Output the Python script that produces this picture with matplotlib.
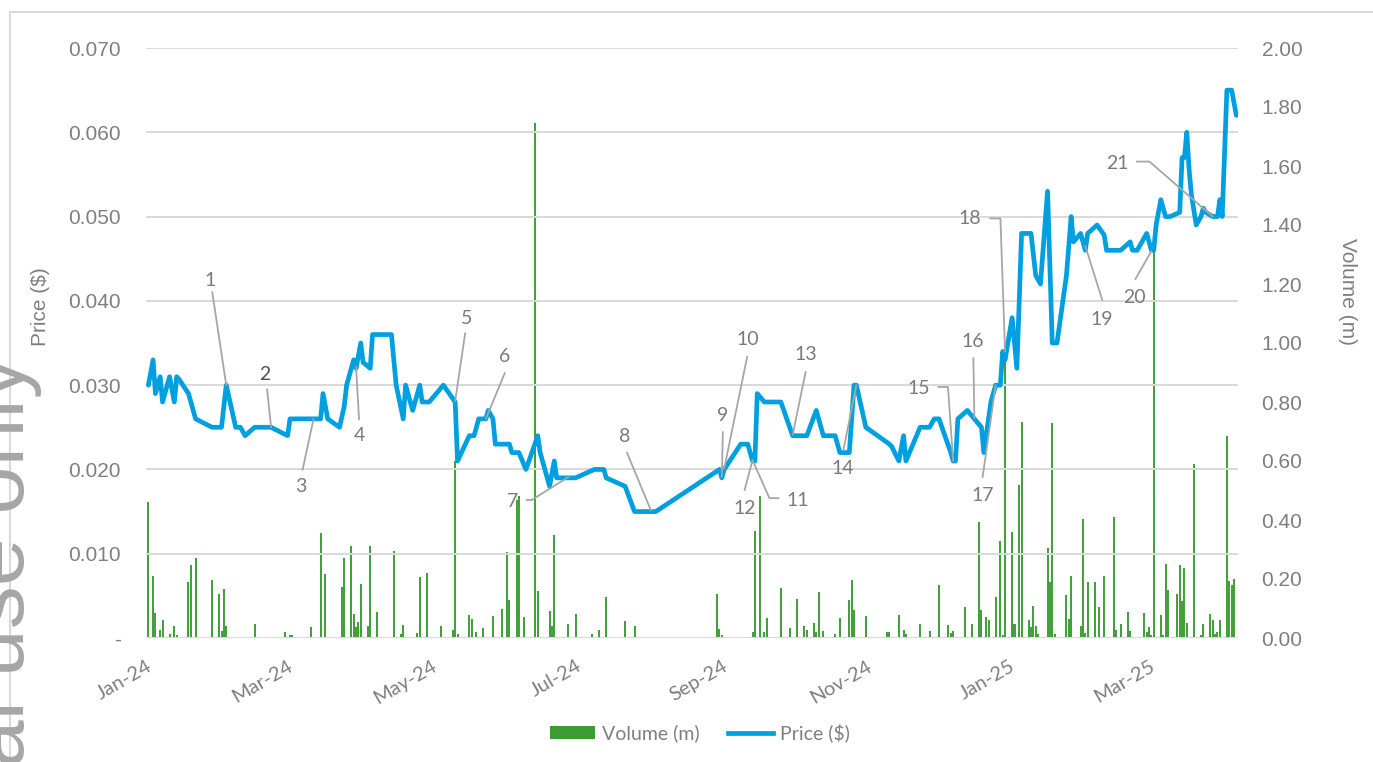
import numpy as np
import pandas as pd
import matplotlib
matplotlib.use("Agg")
import matplotlib.pyplot as plt
import matplotlib.dates as mdates
from matplotlib.ticker import FixedLocator, FuncFormatter
from matplotlib.lines import Line2D
from matplotlib.patches import Patch

# days counted from 1 Jan 2024
start = pd.Timestamp("2024-01-01")

price_day = [1, 3, 4, 6, 7, 10, 12, 13, 14, 18, 21, 28, 32, 34, 38, 40, 42, 46, 53, 60,
             61, 74, 75, 77, 82, 84, 85, 88, 89, 91, 92, 95, 96, 104, 106, 109, 110, 113, 116, 117, 120,
             126, 131, 132, 137, 139, 141, 144, 145, 147, 148, 154, 155, 158, 161, 166, 167, 171, 173, 174,
             182, 190, 194, 195, 203, 207, 216,
             243, 244, 245, 252, 255, 257, 258, 259, 262, 269, 274, 280, 284, 287, 292, 294, 298, 300, 301,
             305, 315, 316, 319, 321, 322, 328, 332, 334, 336, 341, 342, 343, 344, 348, 351, 354, 355, 358,
             360, 362, 363, 364,
             367, 369, 371, 375, 377, 379, 382, 384, 386, 390, 392, 393, 396, 398, 399, 403, 406, 407, 413,
             417, 418, 420, 424,
             426, 427, 428, 430, 432, 434, 438, 439, 440, 441, 442, 443, 445, 447, 448, 449, 452, 454, 455,
             456, 458, 460, 462]
price = [0.030, 0.033, 0.029, 0.031, 0.028, 0.031, 0.028, 0.031, 0.0307, 0.029, 0.026, 0.025, 0.025, 0.030,
         0.025, 0.025, 0.024, 0.025, 0.025, 0.024,
         0.026, 0.026, 0.029, 0.026, 0.025, 0.0275, 0.030, 0.033, 0.032, 0.035, 0.0327, 0.032, 0.036, 0.036,
         0.030, 0.026, 0.030, 0.027, 0.030, 0.028, 0.028,
         0.030, 0.028, 0.021, 0.024, 0.024, 0.026, 0.026, 0.027, 0.026, 0.023, 0.023, 0.022, 0.022, 0.020,
         0.024, 0.022, 0.018, 0.021, 0.019,
         0.019, 0.020, 0.020, 0.019, 0.018, 0.015, 0.015,
         0.020, 0.019, 0.020, 0.023, 0.023, 0.021, 0.021, 0.029, 0.028, 0.028, 0.024, 0.024, 0.027, 0.024,
         0.024, 0.022, 0.022, 0.030, 0.030,
         0.025, 0.023, 0.0227, 0.021, 0.024, 0.021, 0.025, 0.025, 0.026, 0.026, 0.022, 0.021, 0.021, 0.026,
         0.027, 0.026, 0.025, 0.022, 0.028,
         0.030, 0.030, 0.034, 0.033,
         0.038, 0.032, 0.048, 0.048, 0.043, 0.042, 0.053, 0.035, 0.035, 0.043, 0.050, 0.047, 0.048, 0.046,
         0.048, 0.049, 0.0478, 0.046, 0.046,
         0.047, 0.046, 0.046, 0.048,
         0.046, 0.046, 0.049, 0.052, 0.050, 0.050, 0.0505, 0.057, 0.057, 0.060, 0.0555, 0.0525, 0.049, 0.050,
         0.051, 0.0505, 0.050, 0.050, 0.052,
         0.050, 0.065, 0.065, 0.062]

vol_day = [1, 3, 4, 6, 7, 10, 12, 13, 18, 19, 21, 28, 31, 32, 33, 34, 46, 59, 60, 61, 62, 70, 74, 76,
           83, 84, 87, 88, 89, 90, 91, 94, 95, 98, 105, 108, 109, 115, 116, 119, 125, 130, 131, 132,
           137, 138, 140, 143, 147, 151, 153, 154, 157, 158, 160, 165, 166, 171, 172, 173, 179, 182,
           189, 192, 195, 203, 207,
           242, 243, 244, 256, 257, 258, 260, 262, 263, 265, 269, 273, 276, 279, 280, 283, 284, 285,
           287, 291, 292, 294, 298, 299, 300, 305, 314, 315, 319, 321, 322, 328, 332, 336, 340, 341,
           342, 347, 350, 353, 354, 356, 357, 360, 362, 363, 364, 367, 368, 370, 371, 374, 375, 376,
           377, 378, 382, 383, 384, 385, 390, 391, 392, 396, 397, 398, 399, 402, 404, 406, 410, 411,
           412, 413, 416, 417, 423, 424, 425, 426, 427, 430, 431, 432, 433, 437, 438, 439, 440, 441,
           444, 447, 448, 451, 452, 453, 454, 455, 458, 459, 460, 461]
volume = [0.46, 0.21, 0.085, 0.028, 0.061, 0.012, 0.042, 0.01, 0.19, 0.247, 0.272, 0.195, 0.148, 0.025,
          0.167, 0.042, 0.049, 0.02, 0.005, 0.01, 0.01, 0.037, 0.357, 0.217,
          0.173, 0.272, 0.312, 0.081, 0.037, 0.053, 0.183, 0.042, 0.312, 0.088, 0.296, 0.013, 0.045, 0.017,
          0.208, 0.222, 0.042, 0.028, 0.60, 0.013,
          0.077, 0.064, 0.02, 0.034, 0.075, 0.10, 0.293, 0.13, 0.468, 0.482, 0.07, 1.746, 0.161, 0.09,
          0.042, 0.349, 0.049, 0.081,
          0.013, 0.028, 0.14, 0.058, 0.042,
          0.15, 0.03, 0.01, 0.005, 0.02, 0.364, 0.481, 0.02, 0.069, 0.005, 0.169, 0.034, 0.132, 0.04,
          0.027, 0.05, 0.02, 0.155,
          0.025, 0.005, 0.015, 0.069, 0.13, 0.197, 0.094, 0.075, 0.02, 0.02, 0.078, 0.027, 0.013, 0.047,
          0.024, 0.18, 0.045, 0.017,
          0.024, 0.106, 0.046, 0.393, 0.094, 0.07, 0.062, 0.14, 0.329, 0.01, 0.94, 0.359, 0.047, 0.519,
          0.733, 0.06, 0.037, 0.11,
          0.04, 0.013, 0.305, 0.19, 0.73, 0.013, 0.145, 0.066, 0.211, 0.04, 0.403, 0.017, 0.19, 0.19,
          0.106, 0.21, 0.411, 0.028,
          0.005, 0.047, 0.089, 0.025, 0.084, 0.02, 0.037, 0.01, 1.377, 0.077, 0.01, 0.25, 0.163, 0.15,
          0.247, 0.124, 0.236, 0.05,
          0.59, 0.01, 0.048, 0.082, 0.06, 0.013, 0.02, 0.06, 0.685, 0.193, 0.18, 0.20]

ann_label = [str(i) for i in range(1, 22)]
ann_day = [34, 53, 71, 89, 131, 144, 179, 214, 244, 245, 257, 257, 274, 301, 342, 351, 360, 364, 398, 426, 452]
ann_price = [0.030, 0.025, 0.026, 0.0322, 0.0281, 0.026, 0.0191, 0.0151, 0.0191, 0.0201, 0.0211, 0.0211,
             0.0241, 0.030, 0.021, 0.0261, 0.030, 0.034, 0.0465, 0.0459, 0.050]

# label offsets, leader start offsets (pixels from the point) and elbow angles
text_off = [(-16, 105), (-6, 53), (-13, -68), (3, -69), (11, 83), (19, 62), (-56, -24), (-26, 74),
            (1, 62), (24, 129), (45, -40), (-8, -48), (13, 80), (-14, -83), (-34, 72), (-2, 77),
            (-13, -110), (-35, 133), (16, -73), (-17, -46), (-95, 53)]
line_off = [(-14, 93), (-4, 38), (-11, -51), (3, -53), (10, 68), (19, 46), (-42, -23), (-24, 58),
            (1, 45), (23, 112), (26, -38), (-8, -30), (13, 63), (-13, -65), (-15, 74), (-1, 60),
            (-13, -92), (-15, 133), (17, -54), (-16, -28), (-76, 55)]
elbow = {"7": 32, "11": 114, "15": -86, "18": -88, "21": -41}

blue = "#00A0E0"
green = "#44A03C"
grey = "#7F7F7F"
W, H = 1373, 762

px = mdates.date2num((start + pd.to_timedelta(price_day, unit="D")).to_pydatetime())
vx = mdates.date2num((start + pd.to_timedelta(vol_day, unit="D")).to_pydatetime())
ax_ = mdates.date2num((start + pd.to_timedelta(ann_day, unit="D")).to_pydatetime())

fig = plt.figure(figsize=(W / 100, H / 100), dpi=100)

# watermark and frame
fig.text(24 / W, 1 - 355 / H, "For personal use only", rotation=90, rotation_mode="anchor",
         ha="right", va="baseline", fontsize=62, color="#A6A6A6", family="Liberation Sans")
fig.add_artist(Line2D([10 / W, 10 / W], [0, 1 - 12 / H], color="#D9D9D9", lw=1.5))
fig.add_artist(Line2D([10 / W, 1], [1 - 12 / H, 1 - 12 / H], color="#D9D9D9", lw=1.5))

ax = fig.add_axes([146 / W, 1 - 638 / H, (1238 - 146) / W, 590 / H])
axv = ax.twinx()
ax.set_zorder(2)
axv.set_zorder(1)
ax.patch.set_visible(False)

axv.bar(vx, volume, width=0.85, color=green, linewidth=0)
ax.plot(px, price, color=blue, lw=3.4, solid_joinstyle="round", solid_capstyle="round")

x0 = mdates.date2num(start.to_pydatetime())
ax.set_xlim(x0, x0 + 462.7)
ax.set_ylim(0, 0.07)
axv.set_ylim(0, 2.0)

ax.xaxis.set_major_locator(mdates.MonthLocator(bymonth=[1, 3, 5, 7, 9, 11]))
ax.xaxis.set_major_formatter(mdates.DateFormatter("%b-%y"))
ax.tick_params(axis="x", length=0, pad=14, labelcolor=grey, labelsize=14.5)
for t in ax.get_xticklabels():
    t.set_rotation(30)
    t.set_ha("right")
    t.set_rotation_mode("anchor")
    t.set_family("Lato")

ax.set_yticks(np.arange(0, 0.0701, 0.01))
ax.yaxis.set_major_formatter(FuncFormatter(lambda v, p: "-" if abs(v) < 1e-9 else f"{v:.3f}"))
ax.tick_params(axis="y", length=0, pad=18, labelcolor=grey, labelsize=15)
axv.set_yticks(np.arange(0, 2.01, 0.2))
axv.yaxis.set_major_formatter(FuncFormatter(lambda v, p: f"{v:.2f}"))
axv.tick_params(axis="y", length=0, pad=17, labelcolor=grey, labelsize=15)
for t in ax.get_yticklabels() + axv.get_yticklabels():
    t.set_family("Liberation Sans")

axv.yaxis.set_minor_locator(FixedLocator(np.linspace(0, 2, 8)))
axv.yaxis.remove_overlapping_locs = False
axv.tick_params(axis="y", which="minor", length=0)
axv.grid(True, which="minor", axis="y", color="#D9D9D9", lw=1.4)
for a in (ax, axv):
    for s in a.spines.values():
        s.set_visible(False)

fig.text(40 / W, 1 - 307 / H, "Price ($)", rotation=90, ha="center", va="center",
         fontsize=15, color=grey, family="Liberation Sans")
fig.text(1347 / W, 1 - 292 / H, "Volume (m)", rotation=270, ha="center", va="center",
         fontsize=15, color=grey, family="Liberation Sans")

# numbered announcements
for i, lab in enumerate(ann_label):
    xy = (ax_[i], ann_price[i])
    if lab in elbow:
        cs = f"angle,angleA=0,angleB={elbow[lab]},rad=0"
    else:
        cs = "arc3"
    ax.annotate("", xy=xy, xytext=line_off[i], textcoords="offset pixels",
                arrowprops=dict(arrowstyle="-", color="#A6A6A6", lw=1.3, shrinkA=0, shrinkB=0,
                                connectionstyle=cs))
    ax.annotate(lab, xy=xy, xytext=text_off[i], textcoords="offset pixels", ha="center",
                va="center", fontsize=14, family="Lato",
                color="#505050" if lab == "2" else "#7A7A7A")

handles = [Patch(facecolor="#3D9A35", label="Volume (m)"),
           Line2D([], [], color=blue, lw=3.4, label="Price ($)")]
fig.legend(handles=handles, loc="center", bbox_to_anchor=(700 / W, 1 - 733 / H), ncol=2,
           frameon=False, prop={"family": "Lato", "size": 14}, labelcolor=grey,
           handlelength=2.3, handleheight=0.7, handletextpad=0.35, columnspacing=1.5)

fig.savefig("out.png", dpi=100)
